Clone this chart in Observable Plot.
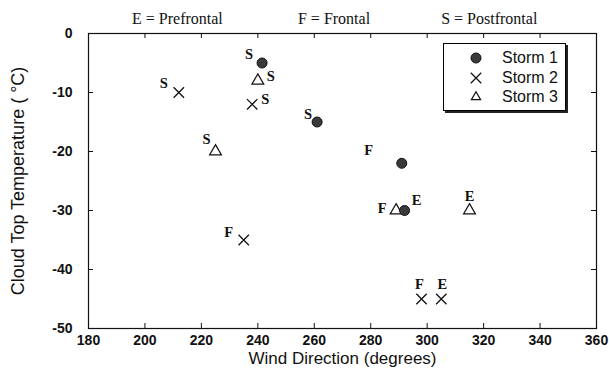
<!DOCTYPE html>
<html>
<head>
<meta charset="utf-8">
<script src="https://cdn.jsdelivr.net/npm/d3@7"></script>
<script src="https://cdn.jsdelivr.net/npm/@observablehq/plot@0.6"></script>
<style>
  body { margin: 0; background: #fff; }
  #chart { position: relative; width: 609px; height: 369px; }
  #legend {
    position: absolute; left: 443px; top: 43px; width: 121px; height: 66px;
    border: 1.5px solid #000; box-shadow: 2px 2px 0 #222; background: #fff;
    font-family: "Liberation Sans", Arial, sans-serif; font-size: 16px; color: #111;
  }
  #legend .row { position: absolute; left: 0; height: 20px; display: flex; align-items: center; }
  #legend svg { position: absolute; left: 24px; }
  #legend span { position: absolute; left: 58px; white-space: nowrap; line-height: 20px; }
</style>
</head>
<body>
<div id="chart"><div id="legend"></div></div>
<script>
// ---- data ----
const storms = ["Storm 1", "Storm 2", "Storm 3"];
const storm1Dir   = [241.5, 261, 291, 292];
const storm1Temp  = [-5, -15, -22, -30];
const storm1Phase = ["S", "S", "F", "E"];
const storm2Dir   = [212, 238, 235, 298, 305];
const storm2Temp  = [-10, -12, -35, -45, -45];
const storm2Phase = ["S", "S", "F", "F", "E"];
const storm3Dir   = [240, 225, 289, 315];
const storm3Temp  = [-8, -20, -30, -30];
const storm3Phase = ["S", "S", "F", "E"];
const phaseKey = ["E = Prefrontal", "F = Frontal", "S = Postfrontal"];
const xTicks = [180, 200, 220, 240, 260, 280, 300, 320, 340, 360];
const yTicks = [0, -10, -20, -30, -40, -50];
const xTitle = "Wind Direction (degrees)";
const yTitle = "Cloud Top Temperature ( °C)";

// ---- layout (label placement in px relative to each point) ----
const labelOffsets = {
  "Storm 1": [[-13, -9], [-9, -8], [-33, -13], [12, -10]],
  "Storm 2": [[-15, -9], [13, -5], [-15, -8], [-2, -15], [1, -15]],
  "Storm 3": [[13, -4], [-9, -12], [-14, -2], [0, -14]]
};
const headerX = [211.5, 267, 322];

const W = 609, H = 369, mL = 88, mR = 13, mT = 33, mB = 41;
const innerW = W - mL - mR, innerH = H - mT - mB;

const series = [
  [storm1Dir, storm1Temp, storm1Phase],
  [storm2Dir, storm2Temp, storm2Phase],
  [storm3Dir, storm3Temp, storm3Phase]
];
const points = [];
series.forEach(([dirs, temps, phases], s) => {
  dirs.forEach((d, i) => points.push({
    storm: storms[s], dir: d, temp: temps[i], phase: phases[i],
    dx: labelOffsets[storms[s]][i][0], dy: labelOffsets[storms[s]][i][1]
  }));
});
const byStorm = s => points.filter(p => p.storm === s);

const serif = "'Liberation Serif', 'Times New Roman', serif";
const sans = "'Liberation Sans', Arial, sans-serif";

const labelMarks = points.map(p => Plot.text([p], {
  x: "dir", y: "temp", text: "phase", dx: p.dx, dy: p.dy,
  fontFamily: serif, fontSize: 14.5, fontWeight: "bold", fill: "#111"
}));

const plot = Plot.plot({
  width: W, height: H,
  marginLeft: mL, marginRight: mR, marginTop: mT, marginBottom: mB,
  style: { fontFamily: sans, fontSize: "14px", color: "#111", background: "transparent" },
  x: { domain: [180, 360] },
  y: { domain: [-50, 0] },
  marks: [
    Plot.frame({ stroke: "#111", strokeWidth: 1.2 }),
    // inward ticks on all four sides
    Plot.tickX(xTicks, { x: d => d, insetTop: innerH - 5, stroke: "#111" }),
    Plot.tickX(xTicks, { x: d => d, insetBottom: innerH - 5, stroke: "#111" }),
    Plot.tickY(yTicks, { y: d => d, insetRight: innerW - 5, stroke: "#111" }),
    Plot.tickY(yTicks, { y: d => d, insetLeft: innerW - 5, stroke: "#111" }),
    Plot.axisX({ ticks: xTicks, tickSize: 0, tickPadding: 7, label: null, fontSize: 14, fontWeight: "bold", tickFormat: d => String(d) }),
    Plot.axisY({ ticks: yTicks, tickSize: 0, tickPadding: 16, label: null, fontSize: 14, fontWeight: "bold", tickFormat: d => String(d) }),
    Plot.text([xTitle], { frameAnchor: "bottom", lineAnchor: "middle", textAnchor: "middle", dy: 30, fontSize: 17, fill: "#111" }),
    Plot.text([yTitle], { frameAnchor: "left", lineAnchor: "middle", textAnchor: "middle", dx: -70, rotate: -90, fontSize: 18, fill: "#111" }),
    Plot.text(phaseKey, { x: (d, i) => headerX[i], frameAnchor: "top", lineAnchor: "middle", dy: -15, fontFamily: serif, fontSize: 16, fill: "#111" }),
    // symbols
    Plot.dot(byStorm("Storm 3"), { x: "dir", y: "temp", symbol: "triangle", r: 4.4, stroke: "#111", strokeWidth: 1.2, fill: "none" }),
    Plot.dot(byStorm("Storm 2"), { x: "dir", y: "temp", symbol: "times", r: 4.8, stroke: "#111", strokeWidth: 1.3 }),
    Plot.dot(byStorm("Storm 1"), { x: "dir", y: "temp", symbol: "circle", r: 5, stroke: "#111", strokeWidth: 1, fill: "#3a3a3a" }),
    ...labelMarks
  ]
});
document.getElementById("chart").prepend(plot);

// legend
const legend = d3.select("#legend");
const legendSymbols = [
  { type: d3.symbolCircle, r: 5, fill: "#3a3a3a", stroke: "#111", sw: 1 },
  { type: d3.symbolTimes, r: 4.8, fill: "none", stroke: "#111", sw: 1.3 },
  { type: d3.symbolTriangle2, r: 4.4, fill: "none", stroke: "#111", sw: 1.2 }
];
storms.forEach((s, i) => {
  const row = legend.append("div").attr("class", "row").style("top", (4 + i * 19.5) + "px").style("width", "100%");
  const sv = row.append("svg").attr("width", 16).attr("height", 20);
  const sym = legendSymbols[i];
  sv.append("path")
    .attr("transform", "translate(8,10)")
    .attr("d", d3.symbol(sym.type, Math.PI * sym.r * sym.r)())
    .attr("fill", sym.fill).attr("stroke", sym.stroke).attr("stroke-width", sym.sw);
  row.append("span").text(s);
});
</script>
</body>
</html>
